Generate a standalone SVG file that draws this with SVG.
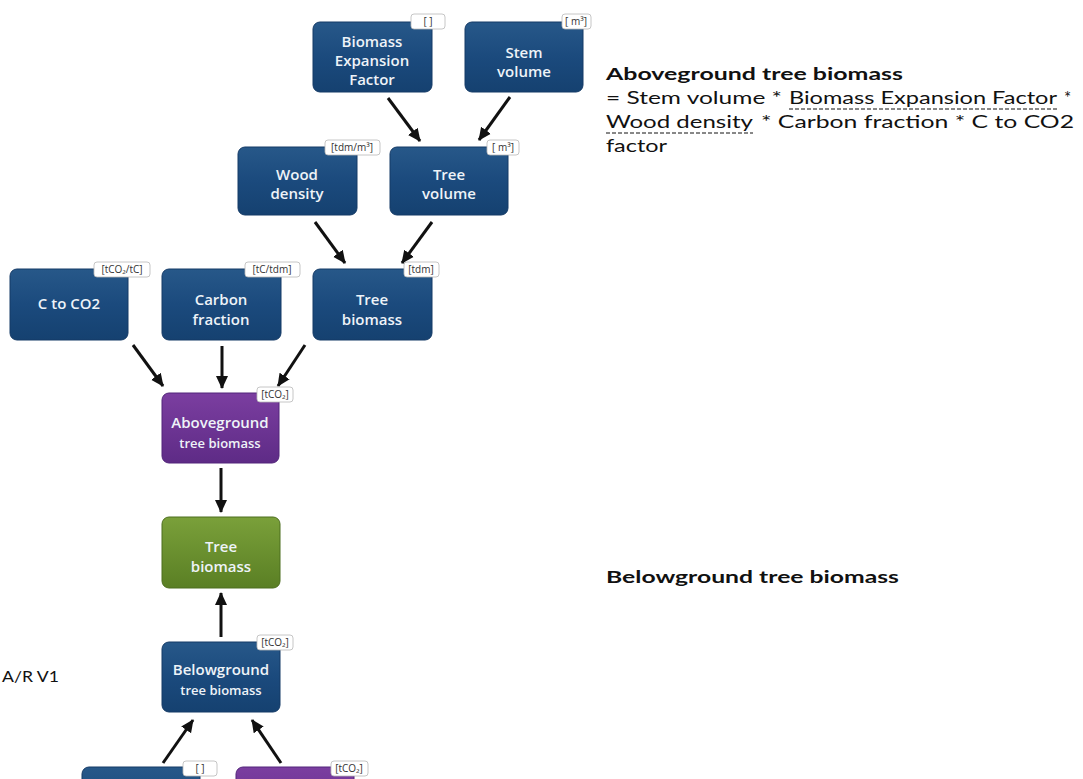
<svg xmlns="http://www.w3.org/2000/svg" width="1083" height="779" viewBox="0 0 1083 779">
<defs>
<linearGradient id="gBlue" x1="0" y1="0" x2="0" y2="1">
<stop offset="0" stop-color="#275889"/><stop offset="0.5" stop-color="#1b4a7d"/><stop offset="1" stop-color="#154170"/>
</linearGradient>
<linearGradient id="gPurple" x1="0" y1="0" x2="0" y2="1">
<stop offset="0" stop-color="#7b3ea0"/><stop offset="1" stop-color="#5e2b86"/>
</linearGradient>
<linearGradient id="gGreen" x1="0" y1="0" x2="0" y2="1">
<stop offset="0" stop-color="#7aa03a"/><stop offset="1" stop-color="#5a7f24"/>
</linearGradient>
<marker id="ah" markerWidth="14" markerHeight="14" refX="12" refY="7" orient="auto" markerUnits="userSpaceOnUse">
<path d="M0,1 L13,7 L0,13 Z" fill="#111"/>
</marker>
<style>
.blue{fill:url(#gBlue);stroke:#143a66;stroke-width:1}
.purple{fill:url(#gPurple);stroke:#52257a;stroke-width:1}
.green{fill:url(#gGreen);stroke:#4d6e1e;stroke-width:1}
.lbl{font-family:"Open Sans","Liberation Sans",sans-serif;font-weight:600;font-size:15px;fill:#eef3f8;text-anchor:middle}
.sub{font-size:13px}
.badge{fill:#fff;stroke:#b8b8b8;stroke-width:0.8}
.bt{font-family:"Open Sans","Liberation Sans",sans-serif;font-size:10px;fill:#333;text-anchor:middle}
.conn{stroke:#111;stroke-width:3;fill:none;marker-end:url(#ah)}
.rt{font-family:Lato,"Liberation Sans",sans-serif;font-size:17px;fill:#111}
.rb{font-family:Lato,"Liberation Sans",sans-serif;font-size:17px;font-weight:bold;fill:#111}
.dash{stroke:#111;stroke-width:1;stroke-dasharray:4,2}
</style>
</defs>
<rect width="1083" height="779" fill="#fff"/>

<g id="connectors">
<line class="conn" x1="388" y1="98" x2="420" y2="141"/>
<line class="conn" x1="510" y1="97" x2="479" y2="140"/>
<line class="conn" x1="315" y1="222" x2="345" y2="263"/>
<line class="conn" x1="432" y1="222" x2="402" y2="263"/>
<line class="conn" x1="133" y1="345" x2="163" y2="386"/>
<line class="conn" x1="222" y1="346" x2="222" y2="388"/>
<line class="conn" x1="305" y1="345" x2="278" y2="386"/>
<line class="conn" x1="221" y1="468" x2="221" y2="512"/>
<line class="conn" x1="221" y1="637" x2="221" y2="593"/>
<line class="conn" x1="163" y1="763" x2="193" y2="720"/>
<line class="conn" x1="281" y1="763" x2="252" y2="720"/>
</g>

<g id="bef">
<rect class="blue" x="313" y="22" width="119" height="70" rx="7"/>
<text class="lbl" x="372" y="47">Biomass</text>
<text class="lbl" x="372" y="66">Expansion</text>
<text class="lbl" x="372" y="85">Factor</text>
<rect class="badge" x="411" y="14" width="34" height="15" rx="3"/>
<text class="bt" x="428" y="25">[  ]</text>
</g>

<g id="stem-volume">
<rect class="blue" x="465" y="22" width="118" height="70" rx="7"/>
<text class="lbl" x="524" y="58">Stem</text>
<text class="lbl" x="524" y="77">volume</text>
<rect class="badge" x="562" y="14" width="29" height="15" rx="3"/>
<text class="bt" x="576" y="25">[ m³]</text>
</g>

<g id="wood-density">
<rect class="blue" x="238" y="147" width="119" height="68" rx="7"/>
<text class="lbl" x="297" y="180">Wood</text>
<text class="lbl" x="297" y="199">density</text>
<rect class="badge" x="325" y="140" width="55" height="15" rx="3"/>
<text class="bt" x="352" y="151">[tdm/m³]</text>
</g>

<g id="tree-volume">
<rect class="blue" x="390" y="147" width="118" height="68" rx="7"/>
<text class="lbl" x="449" y="180">Tree</text>
<text class="lbl" x="449" y="199">volume</text>
<rect class="badge" x="487" y="140" width="32" height="15" rx="3"/>
<text class="bt" x="503" y="151">[ m³]</text>
</g>

<g id="c-to-co2">
<rect class="blue" x="10" y="269" width="118" height="71" rx="7"/>
<text class="lbl" x="69" y="309">C to CO2</text>
<rect class="badge" x="94" y="262" width="56" height="15" rx="3"/>
<text class="bt" x="122" y="273">[tCO₂/tC]</text>
</g>

<g id="carbon-fraction">
<rect class="blue" x="162" y="269" width="119" height="71" rx="7"/>
<text class="lbl" x="221" y="305">Carbon</text>
<text class="lbl" x="221" y="325">fraction</text>
<rect class="badge" x="245" y="262" width="55" height="15" rx="3"/>
<text class="bt" x="272" y="273">[tC/tdm]</text>
</g>

<g id="tree-biomass-dm">
<rect class="blue" x="313" y="269" width="119" height="71" rx="7"/>
<text class="lbl" x="372" y="305">Tree</text>
<text class="lbl" x="372" y="325">biomass</text>
<rect class="badge" x="404" y="262" width="35" height="15" rx="3"/>
<text class="bt" x="421" y="273">[tdm]</text>
</g>

<g id="aboveground">
<rect class="purple" x="162" y="393" width="117" height="70" rx="7"/>
<text class="lbl" x="220" y="428">Aboveground</text>
<text class="lbl sub" x="220" y="448">tree biomass</text>
<rect class="badge" x="257" y="387" width="36" height="15" rx="3"/>
<text class="bt" x="275" y="398">[tCO₂]</text>
</g>

<g id="tree-biomass">
<rect class="green" x="162" y="517" width="118" height="71" rx="7"/>
<text class="lbl" x="221" y="552">Tree</text>
<text class="lbl" x="221" y="572">biomass</text>
</g>

<g id="belowground">
<rect class="blue" x="162" y="642" width="118" height="70" rx="7"/>
<text class="lbl" x="221" y="675">Belowground</text>
<text class="lbl sub" x="221" y="695">tree biomass</text>
<rect class="badge" x="257" y="635" width="36" height="15" rx="3"/>
<text class="bt" x="275" y="646">[tCO₂]</text>
</g>

<g id="root-shoot">
<rect class="blue" x="82" y="767" width="118" height="70" rx="7"/>
<rect class="badge" x="183" y="761" width="34" height="15" rx="3"/>
<text class="bt" x="200" y="772">[  ]</text>
</g>

<g id="aboveground-2">
<rect class="purple" x="236" y="767" width="118" height="70" rx="7"/>
<rect class="badge" x="331" y="761" width="37" height="15" rx="3"/>
<text class="bt" x="349" y="772">[tCO₂]</text>
</g>

<g id="notes">
<text class="rb" x="606" y="80" textLength="297" lengthAdjust="spacingAndGlyphs">Aboveground tree biomass</text>
<text class="rt" x="606" y="104" textLength="176" lengthAdjust="spacingAndGlyphs">= Stem volume *</text>
<text class="rt" x="789" y="104" textLength="268" lengthAdjust="spacingAndGlyphs">Biomass Expansion Factor</text>
<text class="rt" x="1064" y="104">*</text>
<line class="dash" x1="789" y1="109" x2="1057" y2="109"/>
<text class="rt" x="606" y="128" textLength="147" lengthAdjust="spacingAndGlyphs">Wood density</text>
<line class="dash" x1="606" y1="133" x2="753" y2="133"/>
<text class="rt" x="761" y="128" textLength="313" lengthAdjust="spacingAndGlyphs">* Carbon fraction * C to CO2</text>
<text class="rt" x="606" y="152" textLength="61" lengthAdjust="spacingAndGlyphs">factor</text>
<text class="rb" x="606" y="583" textLength="293" lengthAdjust="spacingAndGlyphs">Belowground tree biomass</text>
<text class="rt" x="2" y="682" style="font-size:15px" textLength="57" lengthAdjust="spacingAndGlyphs">A/R V1</text>
</g>
</svg>
